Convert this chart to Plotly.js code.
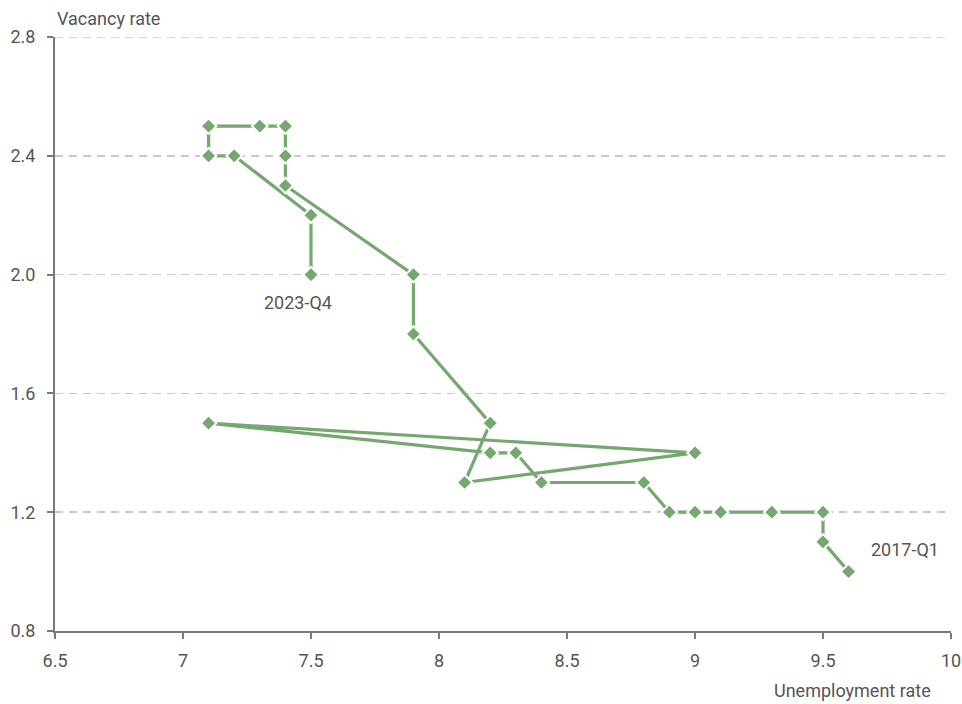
<!DOCTYPE html>
<html>
<head>
<meta charset="utf-8">
<script src="https://cdn.plot.ly/plotly-3.0.1.min.js"></script>
<style>html,body{margin:0;padding:0;background:#fff}#chart{width:962px;height:704px}</style>
</head>
<body>
<div id="chart"></div>
<script>
// Unemployment rate (x) and vacancy rate (y), 2017-Q1 to 2023-Q4
const unemployment = [9.6, 9.5, 9.5, 9.3, 9.1, 9.0, 8.9, 8.8, 8.4, 8.3, 8.2, 7.1, 9.0, 8.1, 8.2, 7.9, 7.9, 7.4, 7.4, 7.4, 7.3, 7.1, 7.1, 7.2, 7.5, 7.5];
const vacancy      = [1.0, 1.1, 1.2, 1.2, 1.2, 1.2, 1.2, 1.3, 1.3, 1.4, 1.4, 1.5, 1.4, 1.3, 1.5, 1.8, 2.0, 2.3, 2.4, 2.5, 2.5, 2.5, 2.4, 2.4, 2.2, 2.0];
const firstLabel = "2017-Q1";
const lastLabel = "2023-Q4";
const xTicks = [6.5, 7, 7.5, 8, 8.5, 9, 9.5, 10];
const yTicks = [0.8, 1.2, 1.6, 2.0, 2.4, 2.8];

const FONT = 'Roboto, "Noto Sans", sans-serif';
const FS = 18;
const green = '#74a86e';
const axisCol = '#7a7a7a';
const txt = '#555';
const gridCol = '#c8c8c8';
const gridDash = '8px,6px';

const trace = {
  x: unemployment, y: vacancy, type: 'scatter', mode: 'lines+markers',
  line: {color: green, width: 3.2},
  marker: {symbol: 'diamond', size: 12, color: green, line: {color: '#ffffff', width: 2}},
  hoverinfo: 'skip', showlegend: false, cliponaxis: false
};

const yMin = yTicks[0], yMax = yTicks[yTicks.length - 1];

const layout = {
  width: 962, height: 704,
  margin: {l: 55, r: 11, t: 37, b: 73},
  paper_bgcolor: '#fff', plot_bgcolor: '#fff',
  font: {family: FONT, size: FS, color: txt},
  xaxis: {
    range: [xTicks[0], xTicks[xTicks.length - 1]], tickvals: xTicks, ticktext: xTicks.map(String),
    showgrid: false, zeroline: false,
    showline: true, linecolor: axisCol, linewidth: 2,
    ticks: 'outside', ticklen: 6, tickwidth: 2, tickcolor: axisCol,
    ticklabelstandoff: 6,
    tickfont: {family: FONT, size: FS, color: txt}
  },
  yaxis: {
    range: [yMin, yMax], tickvals: yTicks, ticktext: yTicks.map(v => v.toFixed(1)),
    showgrid: true, gridcolor: gridCol, griddash: gridDash, gridwidth: 1.5,
    zeroline: false,
    showline: true, linecolor: axisCol, linewidth: 2,
    ticks: 'outside', ticklen: 6, tickwidth: 2, tickcolor: axisCol,
    ticklabelstandoff: 8,
    tickfont: {family: FONT, size: FS, color: txt}
  },
  shapes: [
    {type: 'line', xref: 'paper', yref: 'y', x0: 0, x1: 1, y0: yMax, y1: yMax, layer: 'below',
     line: {color: gridCol, width: 1.5, dash: gridDash}}
  ],
  annotations: [
    {xref: 'paper', yref: 'paper', x: 0, y: 1, yshift: 6, xanchor: 'left', yanchor: 'bottom',
     text: 'Vacancy rate', showarrow: false, font: {family: FONT, size: FS, color: txt}},
    {xref: 'paper', yref: 'paper', x: 0.98, y: 0, yshift: -47, xanchor: 'right', yanchor: 'top',
     text: 'Unemployment rate', showarrow: false, font: {family: FONT, size: FS, color: txt}},
    {x: 9.82, y: 1.075, text: firstLabel, showarrow: false, font: {family: FONT, size: FS, color: txt}},
    {x: 7.45, y: 1.905, text: lastLabel, showarrow: false, font: {family: FONT, size: FS, color: txt}}
  ]
};

Plotly.newPlot('chart', [trace], layout, {displayModeBar: false, staticPlot: true});
</script>
</body>
</html>
